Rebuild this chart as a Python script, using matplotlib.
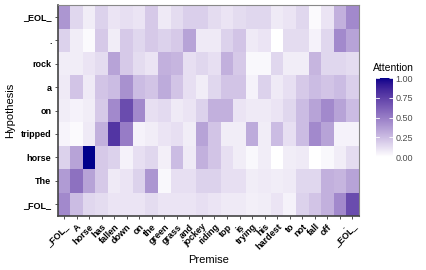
import numpy as np
import matplotlib
matplotlib.use('Agg')
import matplotlib.pyplot as plt
from matplotlib.colors import ListedColormap

plt.rcParams['font.family'] = ['Liberation Sans', 'DejaVu Sans']

premise = ['_FOL_', 'A', 'horse', 'has', 'fallen', 'down', 'on', 'the', 'green', 'grass',
           'and', 'jockey', 'riding', 'top', 'is', 'trying', 'his', 'hardest', 'to', 'not',
           'fall', 'off', '.', '_EOL_']
# bottom to top
hypothesis = ['_FOL_', 'The', 'horse', 'tripped', 'on', 'a', 'rock', '.', '_EOL_']

att_fol = [0.45, 0.25, 0.15, 0.13, 0.10, 0.10, 0.10, 0.13, 0.10, 0.10, 0.10, 0.12,
           0.10, 0.08, 0.08, 0.06, 0.07, 0.10, 0.05, 0.17, 0.22, 0.30, 0.45, 0.70]
att_the = [0.38, 0.55, 0.35, 0.20, 0.08, 0.10, 0.17, 0.40, 0.03, 0.12, 0.12, 0.17,
           0.17, 0.12, 0.12, 0.07, 0.08, 0.07, 0.08, 0.15, 0.15, 0.30, 0.28, 0.35]
att_horse = [0.17, 0.35, 1.00, 0.20, 0.17, 0.05, 0.12, 0.15, 0.06, 0.25, 0.08, 0.30,
             0.22, 0.12, 0.07, 0.03, 0.07, 0.00, 0.07, 0.08, 0.00, 0.03, 0.07, 0.13]
att_tripped = [0.04, 0.02, 0.08, 0.30, 0.80, 0.50, 0.05, 0.07, 0.10, 0.12, 0.07, 0.35,
               0.22, 0.07, 0.07, 0.32, 0.07, 0.25, 0.12, 0.25, 0.45, 0.35, 0.05, 0.05]
att_on = [0.07, 0.05, 0.07, 0.20, 0.45, 0.70, 0.45, 0.12, 0.14, 0.08, 0.10, 0.17,
          0.30, 0.30, 0.10, 0.08, 0.08, 0.10, 0.15, 0.25, 0.35, 0.45, 0.35, 0.25]
att_a = [0.08, 0.22, 0.08, 0.22, 0.25, 0.42, 0.25, 0.22, 0.32, 0.22, 0.12, 0.07,
         0.15, 0.22, 0.22, 0.05, 0.17, 0.08, 0.12, 0.20, 0.25, 0.22, 0.25, 0.18]
att_rock = [0.07, 0.07, 0.10, 0.13, 0.35, 0.20, 0.13, 0.10, 0.30, 0.28, 0.12, 0.15,
            0.12, 0.30, 0.20, 0.03, 0.03, 0.15, 0.07, 0.07, 0.28, 0.15, 0.15, 0.13]
att_dot = [0.17, 0.07, 0.02, 0.20, 0.07, 0.20, 0.15, 0.20, 0.17, 0.20, 0.35, 0.08,
           0.08, 0.17, 0.22, 0.08, 0.10, 0.00, 0.13, 0.13, 0.05, 0.15, 0.45, 0.35]
att_eol = [0.40, 0.15, 0.07, 0.17, 0.10, 0.12, 0.10, 0.20, 0.08, 0.13, 0.18, 0.18,
           0.13, 0.10, 0.13, 0.15, 0.15, 0.08, 0.10, 0.15, 0.02, 0.10, 0.30, 0.45]

att = np.array([att_fol, att_the, att_horse, att_tripped, att_on, att_a,
                att_rock, att_dot, att_eol])


# ggplot-like gradient white -> darkblue, interpolated in CIELAB
def srgb_to_lab(c):
    c = np.asarray(c, float)
    lin = np.where(c <= 0.04045, c / 12.92, ((c + 0.055) / 1.055) ** 2.4)
    m = np.array([[0.4124, 0.3576, 0.1805],
                  [0.2126, 0.7152, 0.0722],
                  [0.0193, 0.1192, 0.9505]])
    xyz = m @ lin / np.array([0.95047, 1.0, 1.08883])
    f = np.where(xyz > 0.008856, np.cbrt(xyz), 7.787 * xyz + 16 / 116)
    return np.array([116 * f[1] - 16, 500 * (f[0] - f[1]), 200 * (f[1] - f[2])])


def lab_to_srgb(lab):
    L, a, b = lab
    fy = (L + 16) / 116
    fx = fy + a / 500
    fz = fy - b / 200
    f = np.array([fx, fy, fz])
    xyz = np.where(f ** 3 > 0.008856, f ** 3, (f - 16 / 116) / 7.787)
    xyz = xyz * np.array([0.95047, 1.0, 1.08883])
    m = np.array([[3.2406, -1.5372, -0.4986],
                  [-0.9689, 1.8758, 0.0415],
                  [0.0557, -0.2040, 1.0570]])
    lin = m @ xyz
    c = np.where(lin <= 0.0031308, 12.92 * lin, 1.055 * np.clip(lin, 0, None) ** (1 / 2.4) - 0.055)
    return np.clip(c, 0, 1)


lo = srgb_to_lab([1, 1, 1])
hi = srgb_to_lab([0, 0, 0x8B / 255])
cols = [lab_to_srgb(lo + (hi - lo) * t) for t in np.linspace(0, 1, 256)]
cmap = ListedColormap(cols)

fig = plt.figure(figsize=(4.27, 2.70), dpi=100)
ax = fig.add_axes([0.1351, 0.2, 0.705, 0.781])
mesh = ax.pcolormesh(np.arange(len(premise) + 1) - 0.5, np.arange(len(hypothesis) + 1) - 0.5,
                     att, cmap=cmap, vmin=0, vmax=1)
ax.set_xlim(-0.5, len(premise) - 0.5)
ax.set_ylim(-0.5, len(hypothesis) - 0.5)
ax.set_xticks(np.arange(len(premise)))
ax.set_xticklabels(premise, rotation=45, ha='right', va='top', fontsize=6.5,
                   fontweight='bold', rotation_mode='anchor')
ax.set_yticks(np.arange(len(hypothesis)))
ax.set_yticklabels(hypothesis, fontsize=6.5, fontweight='bold')
ax.tick_params(length=2.5, width=0.6, color='#333333', pad=2)
for s in ['top', 'right']:
    ax.spines[s].set_color('#888888')
    ax.spines[s].set_linewidth(0.8)
for s in ['left', 'bottom']:
    ax.spines[s].set_color('#444444')
    ax.spines[s].set_linewidth(1.2)
ax.set_xlabel('Premise', fontsize=8, labelpad=2)
ax.set_ylabel('Hypothesis', fontsize=8, labelpad=4)

cax = fig.add_axes([0.8806, 0.4185, 0.0398, 0.2926])
cb = fig.colorbar(mesh, cax=cax, ticks=[0, 0.25, 0.5, 0.75, 1.0])
cb.outline.set_visible(False)
cb.ax.set_yticklabels(['0.00', '0.25', '0.50', '0.75', '1.00'])
cb.ax.tick_params(length=3, width=0.6, color='white', labelsize=6.5,
                  labelcolor='#4d4d4d', pad=2, direction='in')
for t in [0, 0.25, 0.5, 0.75, 1.0]:
    cax.plot([0, 0.2], [t, t], color='white', lw=0.6, transform=cax.get_yaxis_transform())
cax.text(-0.15, 1.06, 'Attention', transform=cax.transAxes, fontsize=7.5,
         ha='left', va='bottom')

fig.savefig('out.png', dpi=100, facecolor='white')
